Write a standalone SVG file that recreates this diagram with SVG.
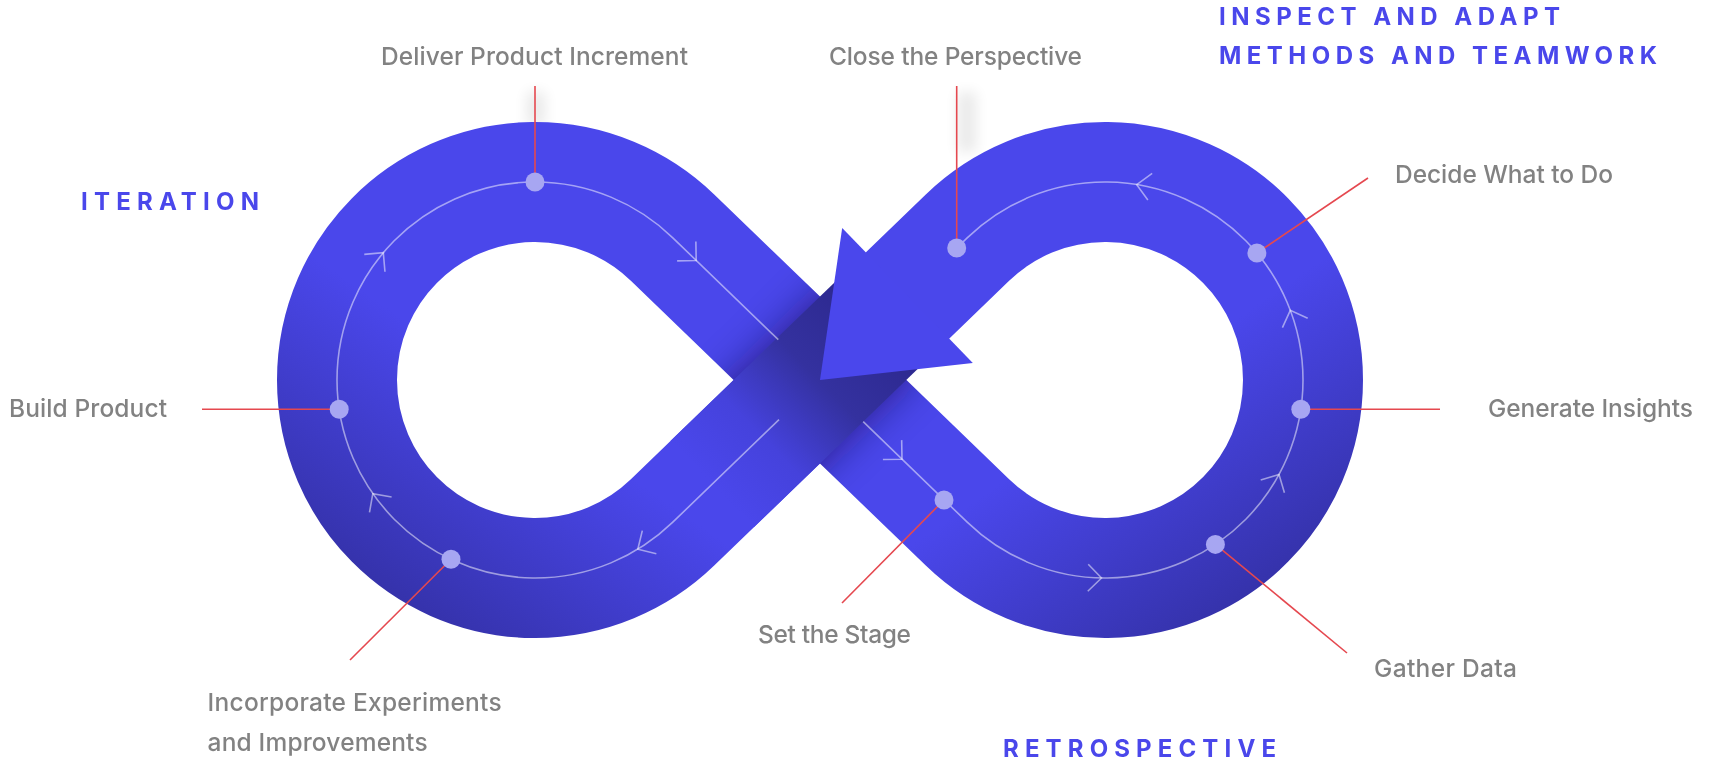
<svg xmlns="http://www.w3.org/2000/svg" width="1713" height="762" viewBox="0 0 1713 762">
<style>
.band{fill:none;stroke-width:120;stroke-linecap:butt;stroke-linejoin:round}
.flow{fill:none;stroke:#ffffff;stroke-opacity:0.5;stroke-width:1.6}
.chev{fill:none;stroke:#ffffff;stroke-opacity:0.5;stroke-width:1.6}
.lead{stroke:#E5484F;stroke-width:1.6;fill:none}
.dot{fill:#A7A6F2}
.label{font-family:Inter,"Open Sans","Liberation Sans",sans-serif;font-size:24.5px;font-weight:500;fill:#828282}
.title{font-family:Inter,"Open Sans","Liberation Sans",sans-serif;font-size:24px;font-weight:700;fill:#4A47EB}
</style>
<defs>
<linearGradient id="gL" gradientUnits="userSpaceOnUse" x1="360" y1="630" x2="520" y2="400">
<stop offset="0" stop-color="#312E9E"/><stop offset="1" stop-color="#4A47EB"/>
</linearGradient>
<linearGradient id="gR" gradientUnits="userSpaceOnUse" x1="1280" y1="630" x2="1120" y2="400">
<stop offset="0" stop-color="#312E9E"/><stop offset="1" stop-color="#4A47EB"/>
</linearGradient>
<linearGradient id="gB" gradientUnits="userSpaceOnUse" x1="877.5" y1="324.4" x2="712.1" y2="484.2">
<stop offset="0" stop-color="#2D2990"/><stop offset="0.35" stop-color="#34319F"/><stop offset="0.7" stop-color="#4542DC"/><stop offset="1" stop-color="#4A47EB"/>
</linearGradient>
<clipPath id="clipA"><polygon points="630.8,280.8 714.2,194.4 1009.2,479.2 925.8,565.6"/></clipPath>
<filter id="blur" x="-50%" y="-50%" width="200%" height="200%"><feGaussianBlur stdDeviation="20"/></filter>
<filter id="soft" x="-100%" y="-100%" width="300%" height="300%"><feGaussianBlur stdDeviation="7"/></filter>
<path id="chev" class="chev" d="M-13.5,-13.5 L0,0 L-13.5,13.5"/>
</defs>

<g id="halos" opacity="0.09">
<rect x="527" y="92" width="18" height="34" fill="#000" filter="url(#soft)"/>
<rect x="958" y="92" width="18" height="60" fill="#000" filter="url(#soft)"/>
</g>

<g id="infinity">
<path class="band" stroke="url(#gL)" d="M820,380 L672.54,237.57 A198,198 0 1 0 672.54,522.43 L820,380"/>
<path class="band" stroke="url(#gR)" d="M820,380 L967.46,522.43 A198,198 0 1 0 967.46,237.57 L895,307.6"/>
<g clip-path="url(#clipA)">
<line x1="880" y1="322" x2="712.1" y2="484.2" stroke="#120f48" stroke-width="120" opacity="0.6" filter="url(#blur)"/>
</g>
<line class="band" x1="877.5" y1="324.4" x2="712.1" y2="484.2" stroke="url(#gB)"/>
<polygon id="arrowhead" points="820,380 842.2,227.9 972.8,363.1" fill="#4A47EC"/>
</g>

<g id="connectors">
<path class="flow" d="M779,419.6 L672.54,522.43 A198,198 0 1 1 672.54,237.57 L778.3,339.7"/>
<path class="flow" d="M863.2,421.7 L967.46,522.43 A198,198 0 1 0 967.46,237.57 L956.7,248"/>
<use href="#chev" transform="translate(383.3,252.7) rotate(310)"/>
<use href="#chev" transform="translate(696.2,260.5) rotate(44)"/>
<use href="#chev" transform="translate(637.8,549.2) rotate(148.7)"/>
<use href="#chev" transform="translate(372.8,493.6) rotate(235)"/>
<use href="#chev" transform="translate(902,459.2) rotate(44)"/>
<use href="#chev" transform="translate(1101.5,578) rotate(1)"/>
<use href="#chev" transform="translate(1279,474.5) rotate(-61.5)"/>
<use href="#chev" transform="translate(1290.3,310.3) rotate(-110.6)"/>
<use href="#chev" transform="translate(1136.7,184.6) rotate(-170.8)"/>
<line class="lead" x1="535" y1="86" x2="535" y2="182"/>
<line class="lead" x1="956.7" y1="86" x2="956.7" y2="248"/>
<line class="lead" x1="1256.9" y1="253" x2="1368" y2="178"/>
<line class="lead" x1="1300.8" y1="409.3" x2="1440" y2="409.3"/>
<line class="lead" x1="1215.4" y1="544.4" x2="1347" y2="653"/>
<line class="lead" x1="944" y1="500" x2="842" y2="603"/>
<line class="lead" x1="451" y1="559.3" x2="350" y2="660"/>
<line class="lead" x1="202" y1="409.3" x2="339.2" y2="409.3"/>
</g>

<g id="node-deliver"><circle class="dot" cx="535" cy="182" r="9.5"/><text class="label" x="381" y="65" textLength="307">Deliver Product Increment</text></g>
<g id="node-close"><circle class="dot" cx="956.7" cy="248" r="9.5"/><text class="label" x="829" y="65" textLength="253">Close the Perspective</text></g>
<g id="node-decide"><circle class="dot" cx="1256.9" cy="253" r="9.5"/><text class="label" x="1395" y="183" textLength="218">Decide What to Do</text></g>
<g id="node-generate"><circle class="dot" cx="1300.8" cy="409.3" r="9.5"/><text class="label" x="1488" y="417" textLength="205">Generate Insights</text></g>
<g id="node-gather"><circle class="dot" cx="1215.4" cy="544.4" r="9.5"/><text class="label" x="1374" y="677" textLength="143">Gather Data</text></g>
<g id="node-stage"><circle class="dot" cx="944" cy="500" r="9.5"/><text class="label" x="758" y="643" textLength="153">Set the Stage</text></g>
<g id="node-incorporate"><circle class="dot" cx="451" cy="559.3" r="9.5"/><text class="label" x="207.6" y="711" textLength="294">Incorporate Experiments</text><text class="label" x="207.6" y="751" textLength="220">and Improvements</text></g>
<g id="node-build"><circle class="dot" cx="339.2" cy="409.3" r="9.5"/><text class="label" x="9" y="417" textLength="158">Build Product</text></g>

<g id="titles">
<text class="title" x="81" y="210" textLength="178">ITERATION</text>
<text class="title" x="1219" y="25" textLength="341">INSPECT AND ADAPT</text>
<text class="title" x="1219" y="64" textLength="438">METHODS AND TEAMWORK</text>
<text class="title" x="1003" y="757" textLength="273">RETROSPECTIVE</text>
</g>
</svg>
